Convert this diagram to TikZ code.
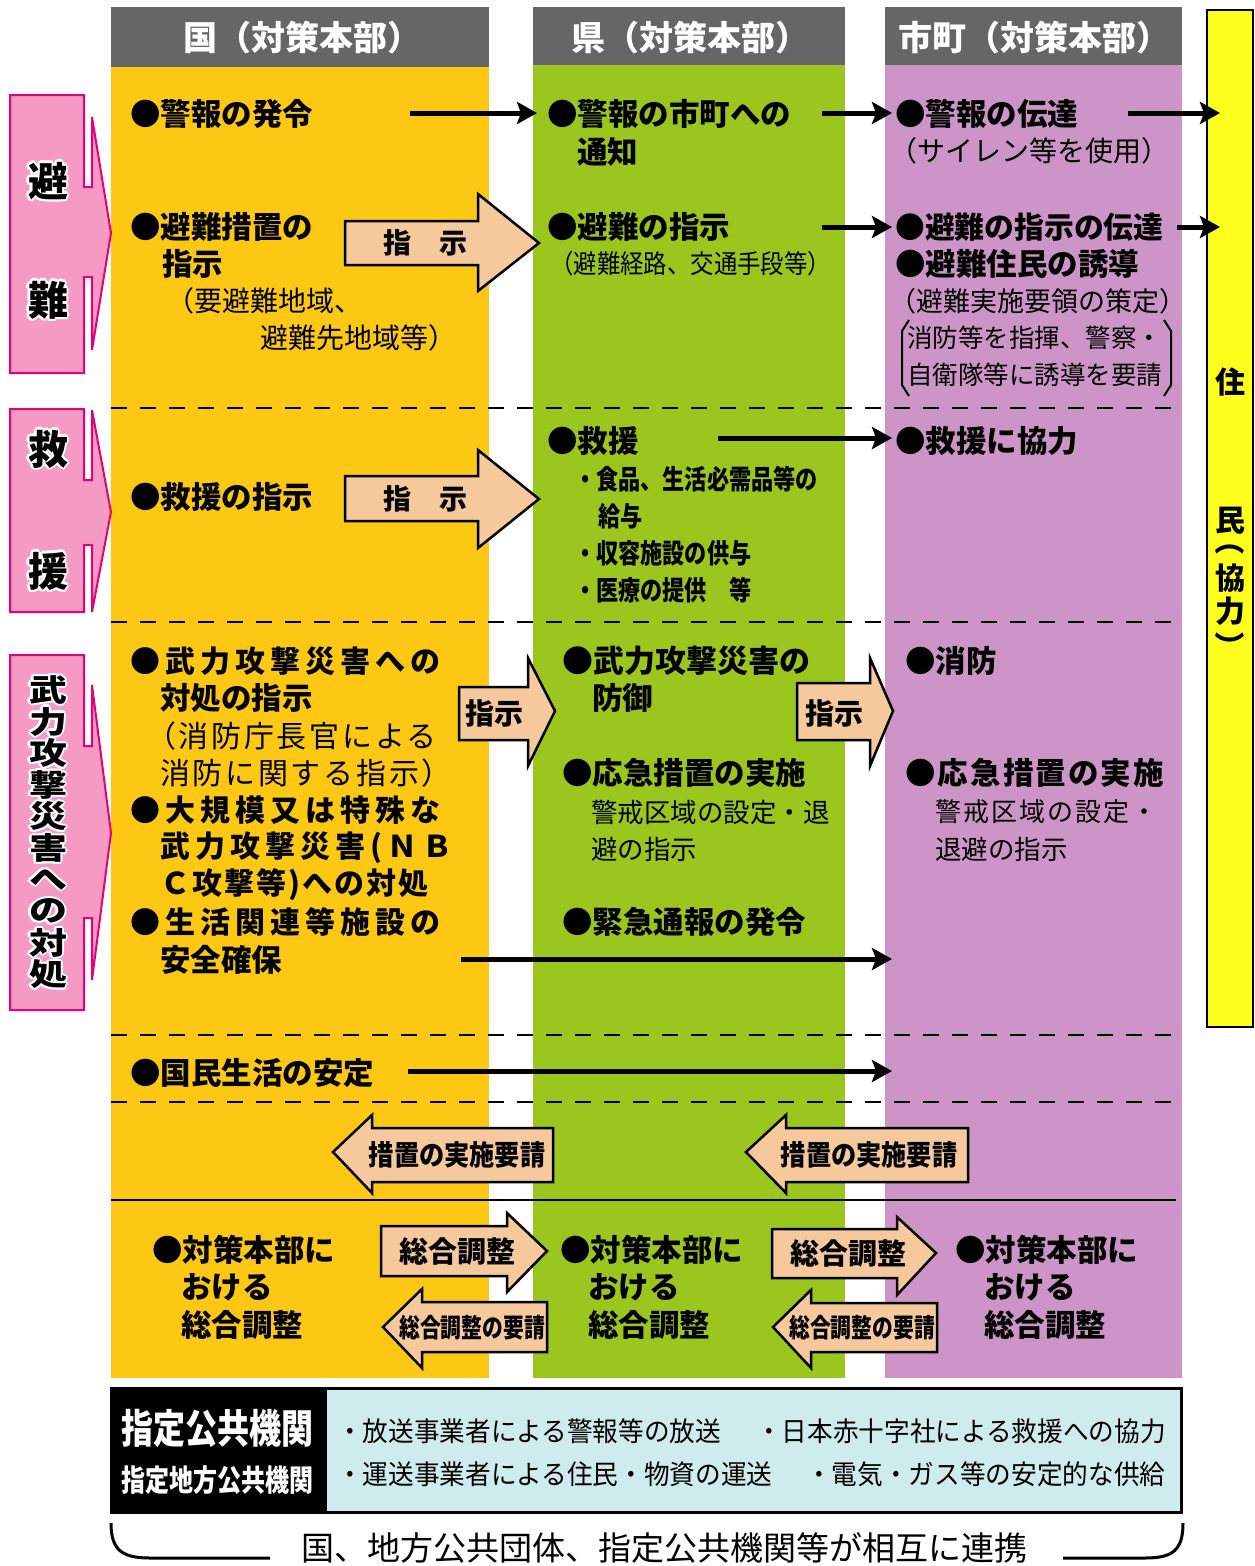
\documentclass[tikz,border=0pt]{standalone}
\usepackage{fontspec}
\setmainfont{Noto Sans CJK JP}
\usetikzlibrary{arrows.meta}
\definecolor{hdr}{RGB}{102,102,102}
\definecolor{colA}{RGB}{252,200,20}
\definecolor{colB}{RGB}{154,198,30}
\definecolor{colC}{RGB}{205,149,199}
\definecolor{resid}{RGB}{255,255,30}
\definecolor{pinkfill}{RGB}{244,154,195}
\definecolor{pinkline}{RGB}{230,0,126}
\definecolor{arrfill}{RGB}{245,201,155}
\definecolor{lblue}{RGB}{206,236,238}
\tikzset{
 bt/.style={anchor=west,inner sep=0pt,font=\bfseries\fontsize{30.5}{36}\selectfont},
 bts/.style={anchor=west,inner sep=0pt,font=\bfseries\fontsize{30}{36}\selectfont\addfontfeatures{LetterSpace=17}},
 rt/.style={anchor=west,inner sep=0pt,font=\fontsize{28}{34}\selectfont},
 bc/.style={anchor=west,inner sep=0pt,font=\bfseries\fontsize{27}{32}\selectfont},
 hd/.style={inner sep=0pt,text=white,font=\bfseries\fontsize{34}{40}\selectfont},
 conn/.style={line width=5pt,-{Stealth[length=20pt,width=22pt,inset=4pt]}},
 sep/.style={line width=2.5pt,dash pattern=on 16pt off 13pt},
 blockarrow/.style={fill=arrfill,draw=black,line width=2.5pt,line join=miter},
 al/.style={inner sep=0pt,font=\bfseries\fontsize{29}{34}\selectfont},
 banner/.style={fill=pinkfill,draw=pinkline,line width=2pt},
 bn/.style={inner sep=0pt,font=\bfseries\fontsize{40}{40}\selectfont},
 bnv/.style={inner sep=0pt,font=\bfseries\fontsize{38}{38}\selectfont},
 bx/.style={inner sep=0pt,font=\fontsize{27}{32}\selectfont,anchor=west},
 rv/.style={inner sep=0pt,font=\bfseries\fontsize{30}{30}\selectfont},
}
% white outline drawn inside one node
\newcommand\hw[3]{\rlap{\hspace{#1}\raisebox{#2}{\color{white}#3}}}
\newcommand\haloin[1]{\leavevmode
  \hw{-2.6pt}{0pt}{#1}\hw{2.6pt}{0pt}{#1}\hw{0pt}{2.6pt}{#1}\hw{0pt}{-2.6pt}{#1}%
  \hw{-1.9pt}{-1.9pt}{#1}\hw{1.9pt}{1.9pt}{#1}\hw{-1.9pt}{1.9pt}{#1}\hw{1.9pt}{-1.9pt}{#1}%
  #1}
\begin{document}
\begin{tikzpicture}[x=1pt,y=-1pt]
\useasboundingbox (0,0) rectangle (1255,1566);
% columns
\fill[colA] (111,67) rectangle (489,1378);
\fill[colB] (533,65) rectangle (845,1378);
\fill[colC] (885,65) rectangle (1182,1378);
\fill[hdr] (111,7) rectangle (489,67);
\fill[hdr] (533,7) rectangle (845,65);
\fill[hdr] (885,7) rectangle (1182,65);
\node[hd,name=h1] at (302,38) {国（対策本部）};
\node[hd,name=h2] at (690,38) {県（対策本部）};
\node[hd,name=h3] at (1034,38) {市町（対策本部）};
% residents box
\draw[fill=resid,line width=2pt] (1207,10) rectangle (1253,1027);
\node[rv,name=r1] at (1230,382) {住};
\node[rv,name=r2] at (1230,521) {民};
\node[rv,rotate=-90,name=r3] at (1230,540) {（};
\node[rv,name=r4] at (1230,578) {協};
\node[rv,name=r5] at (1230,611) {力};
\node[rv,rotate=-90,name=r6] at (1230,646) {）};
% separators
\draw[sep] (111,408) -- (1180,408);
\draw[sep] (111,622) -- (1180,622);
\draw[sep] (111,1035) -- (1180,1035);
\draw[sep] (111,1102) -- (1180,1102);
\draw[line width=2pt] (111,1200) -- (1176,1200);
% banners
\draw[banner] (10,95) -- (84,95) -- (84,187) -- (92,187) -- (92,117) -- (111,233) -- (92,350) -- (92,277) -- (84,277) -- (84,373) -- (10,373) -- cycle;
\draw[banner] (10,409) -- (84,409) -- (84,480) -- (92,480) -- (92,410) -- (111,512) -- (92,612) -- (92,545) -- (84,545) -- (84,612) -- (10,612) -- cycle;
\draw[banner] (10,655) -- (84,655) -- (84,746) -- (92,746) -- (92,685) -- (111,833) -- (92,980) -- (92,918) -- (84,918) -- (84,1010) -- (10,1010) -- cycle;
\node[bn,name=bA] at (48,181) {\haloin{避}};
\node[bn,name=bB] at (48,300) {\haloin{難}};
\node[bn,name=bC] at (48,449) {\haloin{救}};
\node[bn,name=bD] at (48,571) {\haloin{援}};
\foreach \c [count=\i from 0] in {武,力,攻,撃,災,害,へ,の,対,処}{%
  \node[bnv,name=bv\i] at (48,690+31.6*\i) {\scalebox{1}[0.8]{\haloin{\c}}};}
% column 1 texts
\node[bt,name=k1] at (130,114) {●警報の発令};
\node[bt,name=k2] at (130,227) {●避難措置の};
\node[bt,name=k3] at (162,264) {指示};
\node[rt,name=k4] at (166,301) {（要避難地域、};
\node[rt,name=k5] at (260,338) {避難先地域等）};
\node[bt,name=k6] at (130,497) {●救援の指示};
\node[bts,name=k7] at (130,661) {●武力攻撃災害への};
\node[bt,name=k8] at (160,698) {対処の指示};
\node[rt,font=\fontsize{30}{36}\selectfont\addfontfeatures{LetterSpace=9},name=k9] at (146,736) {（消防庁長官による};
\node[rt,font=\fontsize{30}{36}\selectfont\addfontfeatures{LetterSpace=9},name=k10] at (160,773) {消防に関する指示）};
\node[bts,name=k11] at (130,810) {●大規模又は特殊な};
\node[bts,name=k12] at (160,848) {武力攻撃災害(ＮＢ};
\node[bt,font=\bfseries\fontsize{30}{36}\selectfont\addfontfeatures{LetterSpace=7},name=k13] at (160,885) {Ｃ攻撃等)への対処};
\node[bts,name=k14] at (130,922) {●生活関連等施設の};
\node[bt,name=k15] at (160,960) {安全確保};
\node[bt,name=k16] at (130,1073) {●国民生活の安定};
\node[bt,name=k17] at (152,1250) {●対策本部に};
\node[bt,name=k18] at (181,1287) {おける};
\node[bt,name=k19] at (181,1325) {総合調整};
% column 2 texts
\node[bt,name=p1] at (547,114) {●警報の市町への};
\node[bt,name=p2] at (577,152) {通知};
\node[bt,name=p3] at (547,227) {●避難の指示};
\node[rt,font=\fontsize{26}{32}\selectfont,name=p4] at (550,264) {\scalebox{0.9}[1]{（避難経路、交通手段等）}};
\node[bt,name=p5] at (547,441) {●救援};
\node[bc,name=p6] at (574,479) {\scalebox{0.82}[1]{・食品、生活必需品等の}};
\node[bc,name=p7] at (598,516) {\scalebox{0.82}[1]{給与}};
\node[bc,name=p8] at (574,553) {\scalebox{0.82}[1]{・収容施設の供与}};
\node[bc,name=p9] at (574,590) {\scalebox{0.82}[1]{・医療の提供　等}};
\node[bt,font=\bfseries\fontsize{31}{36}\selectfont,name=p10] at (562,661) {●武力攻撃災害の};
\node[bt,name=p11] at (592,698) {防御};
\node[bt,name=p12] at (562,773) {●応急措置の実施};
\node[rt,font=\fontsize{26.5}{32}\selectfont,name=p13] at (591,812) {警戒区域の設定・退};
\node[rt,font=\fontsize{26.5}{32}\selectfont,name=p14] at (591,849) {避の指示};
\node[bt,name=p15] at (562,922) {●緊急通報の発令};
\node[bt,name=p16] at (560,1250) {●対策本部に};
\node[bt,name=p17] at (588,1287) {おける};
\node[bt,name=p18] at (588,1325) {総合調整};
% column 3 texts
\node[bt,name=m1] at (895,114) {●警報の伝達};
\node[rt,name=m2] at (889,151) {（サイレン等を使用）};
\node[bt,font=\bfseries\fontsize{29.8}{36}\selectfont,name=m3] at (895,227) {●避難の指示の伝達};
\node[bt,name=m4] at (895,264) {●避難住民の誘導};
\node[rt,font=\fontsize{27}{32}\selectfont,name=m5] at (889,301) {（避難実施要領の策定）};
\node[rt,font=\fontsize{25.5}{30}\selectfont,name=m6] at (907,338) {消防等を指揮、警察・};
\node[rt,font=\fontsize{25.5}{30}\selectfont,name=m7] at (907,375) {自衛隊等に誘導を要請};
\draw[line width=2pt] (909,320) -- (902,331) -- (902,385) -- (909,396);
\draw[line width=2pt] (1164,320) -- (1171,331) -- (1171,385) -- (1164,396);
\node[bt,name=m8] at (895,441) {●救援に協力};
\node[bt,name=m9] at (905,661) {●消防};
\node[bt,font=\bfseries\fontsize{30.5}{36}\selectfont\addfontfeatures{LetterSpace=7},name=m10] at (905,773) {●応急措置の実施};
\node[rt,font=\fontsize{26}{32}\selectfont\addfontfeatures{LetterSpace=8},name=m11] at (935,812) {警戒区域の設定・};
\node[rt,font=\fontsize{26.5}{32}\selectfont,name=m12] at (935,849) {退避の指示};
\node[bt,name=m13] at (955,1250) {●対策本部に};
\node[bt,name=m14] at (984,1287) {おける};
\node[bt,name=m15] at (984,1325) {総合調整};
% black connectors
\coordinate (c1s) at (410,113); \coordinate (c1e) at (537,113);
\coordinate (c2s) at (822,113); \coordinate (c2e) at (892,113);
\coordinate (c3s) at (1128,113); \coordinate (c3e) at (1220,113);
\coordinate (c4s) at (822,227); \coordinate (c4e) at (892,227);
\coordinate (c5s) at (1177,227); \coordinate (c5e) at (1220,227);
\coordinate (c6s) at (718,438); \coordinate (c6e) at (892,438);
\coordinate (c7s) at (461,959); \coordinate (c7e) at (892,959);
\coordinate (c8s) at (408,1071); \coordinate (c8e) at (892,1071);
\foreach \n in {1,...,8}{\draw[conn] (c\n s) -- (c\n e);}
% block arrows
\draw[blockarrow] (345,221) -- (478,221) -- (478,194) -- (539,243) -- (478,291) -- (478,265) -- (345,265) -- cycle;
\draw[blockarrow] (345,476) -- (478,476) -- (478,450) -- (539,499) -- (478,548) -- (478,521) -- (345,521) -- cycle;
\draw[blockarrow] (459,687) -- (528,687) -- (528,658) -- (555,711) -- (528,766) -- (528,740) -- (459,740) -- cycle;
\draw[blockarrow] (797,683) -- (870,683) -- (870,658) -- (893,711) -- (870,766) -- (870,740) -- (797,740) -- cycle;
\draw[blockarrow] (553,1128) -- (372,1128) -- (372,1115) -- (333,1152) -- (372,1193) -- (372,1182) -- (553,1182) -- cycle;
\draw[blockarrow] (968,1128) -- (786,1128) -- (786,1115) -- (746,1152) -- (786,1193) -- (786,1182) -- (968,1182) -- cycle;
\draw[blockarrow] (381,1226) -- (507,1226) -- (507,1213) -- (547,1251) -- (507,1292) -- (507,1276) -- (381,1276) -- cycle;
\draw[blockarrow] (547,1302) -- (422,1302) -- (422,1289) -- (383,1327) -- (422,1368) -- (422,1352) -- (547,1352) -- cycle;
\draw[blockarrow] (772,1229) -- (897,1229) -- (897,1217) -- (936,1253) -- (897,1295) -- (897,1278) -- (772,1278) -- cycle;
\draw[blockarrow] (937,1303) -- (811,1303) -- (811,1290) -- (773,1327) -- (811,1368) -- (811,1352) -- (937,1352) -- cycle;
\node[al,font=\bfseries\fontsize{28}{34}\selectfont,name=l1] at (425,243) {指　示};
\node[al,font=\bfseries\fontsize{28}{34}\selectfont,name=l2] at (425,499) {指　示};
\node[al,name=l3] at (494,713) {指示};
\node[al,name=l4] at (834,713) {指示};
\node[al,font=\bfseries\fontsize{28}{34}\selectfont,name=l5] at (457,1155) {\scalebox{0.9}[1]{措置の実施要請}};
\node[al,font=\bfseries\fontsize{28}{34}\selectfont,name=l6] at (869,1155) {\scalebox{0.9}[1]{措置の実施要請}};
\node[al,name=l7] at (457,1252) {総合調整};
\node[al,font=\bfseries\fontsize{26}{32}\selectfont,name=l8] at (472,1328) {\scalebox{0.8}[1]{総合調整の要請}};
\node[al,name=l9] at (848,1254) {総合調整};
\node[al,font=\bfseries\fontsize{26}{32}\selectfont,name=l10] at (862,1328) {\scalebox{0.8}[1]{総合調整の要請}};
% bottom box
\fill[lblue] (327,1388) rectangle (1181,1512);
\fill[black] (111,1388) rectangle (327,1512);
\draw[line width=3pt] (111,1388) rectangle (1181,1512);
\node[inner sep=0pt,text=white,font=\bfseries\fontsize{40}{40}\selectfont,name=b1] at (217,1428) {\scalebox{0.8}[1]{指定公共機関}};
\node[inner sep=0pt,text=white,font=\bfseries\fontsize{30}{30}\selectfont,name=b2] at (217,1480) {\scalebox{0.8}[1]{指定地方公共機関}};
\node[bx,name=b3] at (337,1431) {\scalebox{0.95}[1]{・放送事業者による警報等の放送}};
\node[bx,name=b4] at (337,1474) {\scalebox{0.95}[1]{・運送事業者による住民・物資の運送}};
\node[bx,name=b5] at (756,1431) {\scalebox{0.95}[1]{・日本赤十字社による救援への協力}};
\node[bx,name=b6] at (806,1474) {\scalebox{0.95}[1]{・電気・ガス等の安定的な供給}};
% bottom brace
\draw[line width=3pt] (111,1523) .. controls (111,1550) and (122,1558) .. (150,1558) -- (270,1558);
\draw[line width=3pt] (1063,1558) -- (1145,1558) .. controls (1173,1558) and (1183,1550) .. (1183,1523);
\node[inner sep=0pt,font=\fontsize{33}{40}\selectfont,name=b7] at (664,1548) {国、地方公共団体、指定公共機関等が相互に連携};
\end{tikzpicture}
\end{document}
